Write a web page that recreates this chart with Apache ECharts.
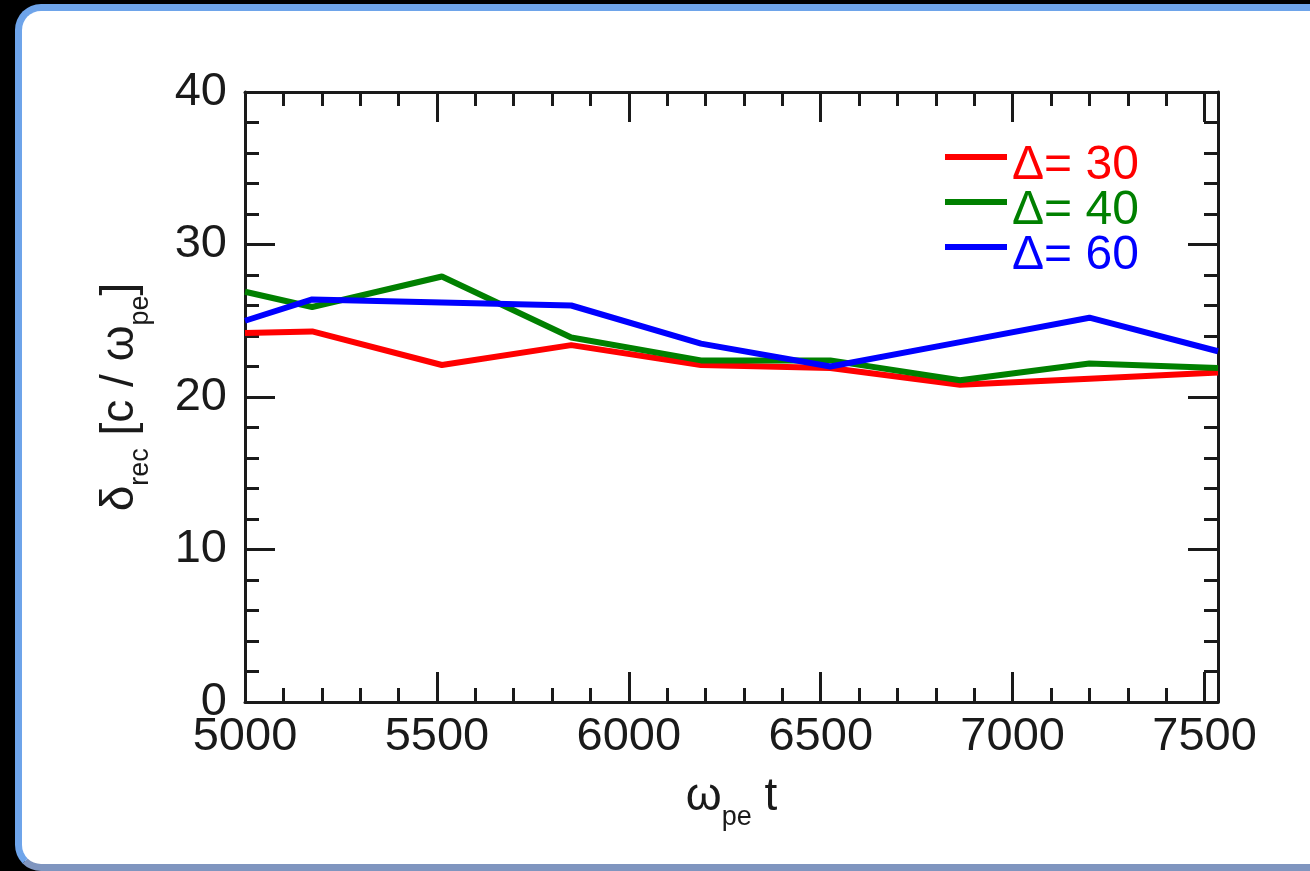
<!DOCTYPE html>
<html>
<head>
<meta charset="utf-8">
<script src="https://cdn.jsdelivr.net/npm/echarts@6/dist/echarts.min.js"></script>
<style>
  html, body { margin: 0; padding: 0; width: 1310px; height: 871px; background: #000; overflow: hidden; }
  #panel {
    position: absolute; left: 15px; top: 4px; width: 1340px; height: 867px;
    box-sizing: border-box; border: 7px solid #6ea4ea; border-radius: 26px; background: #fff;
    border-bottom-color: #7f95bf;
  }
  #chart { position: absolute; left: 0; top: 0; width: 1310px; height: 871px; }
</style>
</head>
<body>
<div id="panel"></div>
<div id="chart"></div>
<script>
// Reconnection-layer thickness versus time for three current-sheet widths
const times = [5000, 5175, 5513, 5850, 6188, 6525, 6863, 7200, 7535];
const delta30 = [24.2, 24.3, 22.1, 23.4, 22.1, 21.9, 20.8, 21.2, 21.6];
const delta40 = [26.9, 25.9, 27.9, 23.9, 22.4, 22.4, 21.1, 22.2, 21.9];
const delta60 = [25.0, 26.4, 26.2, 26.0, 23.5, 22.0, 23.6, 25.2, 23.0];
const seriesNames = ['Δ= 30', 'Δ= 40', 'Δ= 60'];
const seriesColors = ['#ff0000', '#008000', '#0000ff'];
const xRange = [5000, 7535];
const yRange = [0, 40];

const FONT = '"Liberation Sans", Arial, Helvetica, sans-serif';
const INK = '#1a1a1a';
const box = { left: 245, top: 92, right: 92, bottom: 169 };

const frame = { show: true, onZero: false, lineStyle: { color: INK, width: 3 } };
const majorTick = { show: true, inside: true, length: 30, lineStyle: { color: INK, width: 3 } };
const minorTickStyle = { show: true, inside: true, length: 14, lineStyle: { color: INK, width: 3 } };
const noLabel = { show: false };
const noSplit = { show: false };

const nameRich = {
  m: { fontSize: 46, fontFamily: FONT, color: INK, lineHeight: 50, verticalAlign: 'top' },
  s: { fontSize: 27, fontFamily: FONT, color: INK, lineHeight: 27, padding: [30, 0, 0, 0], verticalAlign: 'top' }
};

const chart = echarts.init(document.getElementById('chart'), null, { renderer: 'canvas' });

const lines = [delta30, delta40, delta60].map((vals, i) => ({
  name: seriesNames[i],
  type: 'line',
  xAxisIndex: 0,
  yAxisIndex: 0,
  showSymbol: false,
  symbol: 'none',
  lineStyle: { color: seriesColors[i], width: 6 },
  itemStyle: { color: seriesColors[i] },
  emphasis: { disabled: true },
  data: times.map((t, k) => [t, vals[k]])
}));

chart.setOption({
  animation: false,
  backgroundColor: 'transparent',
  grid: [Object.assign({}, box), Object.assign({}, box)],
  legend: {
    orient: 'vertical',
    left: 945,
    top: 124,
    padding: 0,
    itemWidth: 62,
    itemHeight: 6,
    itemGap: -21,
    icon: 'rect',
    selectedMode: false,
    formatter: n => '{t|' + n + '}',
    textStyle: {
      fontSize: 48, fontFamily: FONT,
      rich: { t: { fontSize: 48, fontFamily: FONT, lineHeight: 30, padding: [18, 0, 0, 0] } }
    },
    data: seriesNames.map((n, i) => ({ name: n, textStyle: { color: seriesColors[i] } }))
  },
  xAxis: [
    {
      type: 'value', gridIndex: 0, position: 'bottom',
      min: xRange[0], max: xRange[1], interval: 500,
      axisLine: frame, axisTick: majorTick, splitLine: noSplit,
      axisLabel: { showMaxLabel: false, fontSize: 47, fontFamily: FONT, color: INK, margin: 12, formatter: v => String(v) },
      name: '{m|ω}{s|pe}{m| t}',
      nameLocation: 'middle', nameGap: 72,
      nameTextStyle: { rich: nameRich }
    },
    {
      type: 'value', gridIndex: 0, position: 'top',
      min: xRange[0], max: xRange[1], interval: 500,
      axisLine: frame, axisTick: majorTick, splitLine: noSplit, axisLabel: noLabel
    },
    {
      type: 'value', gridIndex: 1, position: 'bottom',
      min: xRange[0], max: xRange[1], interval: 100,
      axisLine: { show: false }, axisTick: minorTickStyle, splitLine: noSplit, axisLabel: noLabel
    },
    {
      type: 'value', gridIndex: 1, position: 'top',
      min: xRange[0], max: xRange[1], interval: 100,
      axisLine: { show: false }, axisTick: minorTickStyle, splitLine: noSplit, axisLabel: noLabel
    }
  ],
  yAxis: [
    {
      type: 'value', gridIndex: 0, position: 'left',
      min: yRange[0], max: yRange[1], interval: 10,
      axisLine: frame, axisTick: majorTick, splitLine: noSplit,
      minorTick: { show: true, splitNumber: 5, length: 14, lineStyle: { color: INK, width: 3 } },
      minorSplitLine: { show: false },
      axisLabel: { fontSize: 47, fontFamily: FONT, color: INK, margin: 18 },
      name: '{m|δ}{s|rec}{m| [c / ω}{s|pe}{m|]}',
      nameLocation: 'middle', nameGap: 98,
      nameTextStyle: { rich: nameRich }
    },
    {
      type: 'value', gridIndex: 0, position: 'right',
      min: yRange[0], max: yRange[1], interval: 10,
      axisLine: frame, axisTick: majorTick, splitLine: noSplit,
      minorTick: { show: true, splitNumber: 5, length: 14, lineStyle: { color: INK, width: 3 } },
      minorSplitLine: { show: false },
      axisLabel: noLabel
    },
    {
      type: 'value', gridIndex: 1, show: false,
      min: yRange[0], max: yRange[1]
    }
  ],
  series: lines
});
</script>
</body>
</html>
